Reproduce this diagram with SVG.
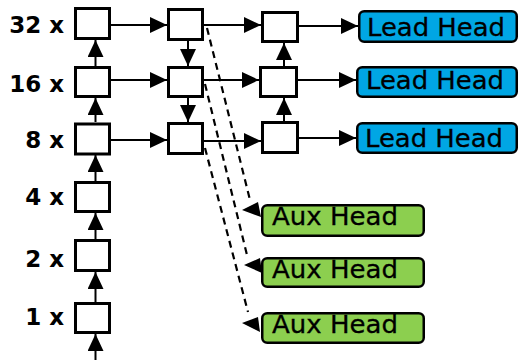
<svg xmlns="http://www.w3.org/2000/svg" width="519" height="360" viewBox="0 0 519 360">
<defs>
<style>
.box{fill:#fff;stroke:#000;stroke-width:3}
.lead{fill:#00a6e4;stroke:#000;stroke-width:2.5}
.aux{fill:#8ccf4f;stroke:#000;stroke-width:2.5}
.lbl{font-family:"DejaVu Sans",Verdana,sans-serif;font-weight:bold;font-size:23px;fill:#000}
.ht{font-family:"DejaVu Sans",Verdana,sans-serif;font-size:25px;fill:#000;stroke:#000;stroke-width:0.3}
.ar{stroke:#000;stroke-width:2;fill:none;marker-end:url(#ah)}
.da{stroke:#000;stroke-width:2.2;fill:none;stroke-dasharray:7 5}
.tri{fill:#000}
</style>
<marker id="ah" markerUnits="userSpaceOnUse" markerWidth="17" markerHeight="16" refX="17" refY="8" orient="auto">
<path d="M0,0 L17,8 L0,16 z" fill="#000"/>
</marker>
</defs>
<rect width="519" height="360" fill="#fff"/>
<g id="labels">
<text class="lbl" x="64" y="33" text-anchor="end">32 x</text>
<text class="lbl" x="64" y="92" text-anchor="end">16 x</text>
<text class="lbl" x="64" y="148" text-anchor="end">8 x</text>
<text class="lbl" x="64" y="205" text-anchor="end">4 x</text>
<text class="lbl" x="64" y="267" text-anchor="end">2 x</text>
<text class="lbl" x="64" y="325" text-anchor="end">1 x</text>
</g>
<g id="connectors">
<line class="ar" x1="95.5" y1="360" x2="95.5" y2="334"/>
<line class="ar" x1="95.5" y1="302" x2="95.5" y2="272"/>
<line class="ar" x1="95.5" y1="239" x2="95.5" y2="213"/>
<line class="ar" x1="95.5" y1="181" x2="95.5" y2="155"/>
<line class="ar" x1="95.5" y1="122" x2="95.5" y2="98"/>
<line class="ar" x1="95.5" y1="66" x2="95.5" y2="40"/>
<line class="ar" x1="111" y1="25" x2="167" y2="25"/>
<line class="ar" x1="111" y1="80" x2="167" y2="80"/>
<line class="ar" x1="111" y1="140" x2="167" y2="140"/>
<line class="ar" x1="188" y1="41" x2="188" y2="66"/>
<line class="ar" x1="188" y1="98" x2="188" y2="122"/>
<line class="ar" x1="204" y1="25" x2="261" y2="25"/>
<line class="ar" x1="204" y1="80" x2="259" y2="80"/>
<line class="ar" x1="204" y1="141" x2="261" y2="141"/>
<line class="ar" x1="284" y1="66" x2="284" y2="43"/>
<line class="ar" x1="284" y1="121" x2="284" y2="98"/>
<line class="ar" x1="299" y1="26" x2="358" y2="26"/>
<line class="ar" x1="298" y1="80" x2="356" y2="80"/>
<line class="ar" x1="299" y1="138" x2="356" y2="138"/>
<path class="da" d="M207,28 L250,200"/>
<path class="da" d="M205,84 L247,255"/>
<path class="da" d="M205,148 L248,312"/>
<polygon class="tri" points="242,210 258,202 261,217"/>
<polygon class="tri" points="244,265 260,258 262,273"/>
<polygon class="tri" points="242,323 258,317 260,332"/>
</g>
<g id="c1r32"><rect class="box" x="75.5" y="8.5" width="34" height="30"/></g>
<g id="c1r16"><rect class="box" x="75.5" y="67.5" width="34" height="29"/></g>
<g id="c1r8"><rect class="box" x="75.5" y="124" width="34" height="30"/></g>
<g id="c1r4"><rect class="box" x="75.5" y="182.5" width="34" height="29"/></g>
<g id="c1r2"><rect class="box" x="75.5" y="240.5" width="34" height="30"/></g>
<g id="c1r1"><rect class="box" x="75.5" y="303.5" width="34" height="29"/></g>
<g id="c2r32"><rect class="box" x="168.5" y="9.5" width="34" height="30"/></g>
<g id="c2r16"><rect class="box" x="168.5" y="67.5" width="34" height="29"/></g>
<g id="c2r8"><rect class="box" x="168.5" y="123.5" width="34" height="30"/></g>
<g id="c3r32"><rect class="box" x="262.5" y="12.5" width="35" height="29"/></g>
<g id="c3r16"><rect class="box" x="260.5" y="67.5" width="36" height="29"/></g>
<g id="c3r8"><rect class="box" x="262.5" y="122.5" width="35" height="30"/></g>
<g id="lead1"><rect class="lead" x="359.25" y="11.25" width="157.5" height="30.5" rx="5"/><text class="ht" x="367" y="36" textLength="138" lengthAdjust="spacingAndGlyphs">Lead Head</text></g>
<g id="lead2"><rect class="lead" x="357.25" y="67.25" width="159.5" height="29.5" rx="5"/><text class="ht" x="366" y="89" textLength="138" lengthAdjust="spacingAndGlyphs">Lead Head</text></g>
<g id="lead3"><rect class="lead" x="357.25" y="123.25" width="159.5" height="29.5" rx="5"/><text class="ht" x="365" y="147" textLength="138" lengthAdjust="spacingAndGlyphs">Lead Head</text></g>
<g id="aux1"><rect class="aux" x="262.25" y="205.25" width="161.5" height="30.5" rx="5"/><text class="ht" x="272" y="225" textLength="126" lengthAdjust="spacingAndGlyphs">Aux Head</text></g>
<g id="aux2"><rect class="aux" x="262.25" y="258.25" width="161.5" height="28.5" rx="5"/><text class="ht" x="272" y="278" textLength="126" lengthAdjust="spacingAndGlyphs">Aux Head</text></g>
<g id="aux3"><rect class="aux" x="262.25" y="313.25" width="161.5" height="29.5" rx="5"/><text class="ht" x="272" y="333" textLength="126" lengthAdjust="spacingAndGlyphs">Aux Head</text></g>
</svg>
